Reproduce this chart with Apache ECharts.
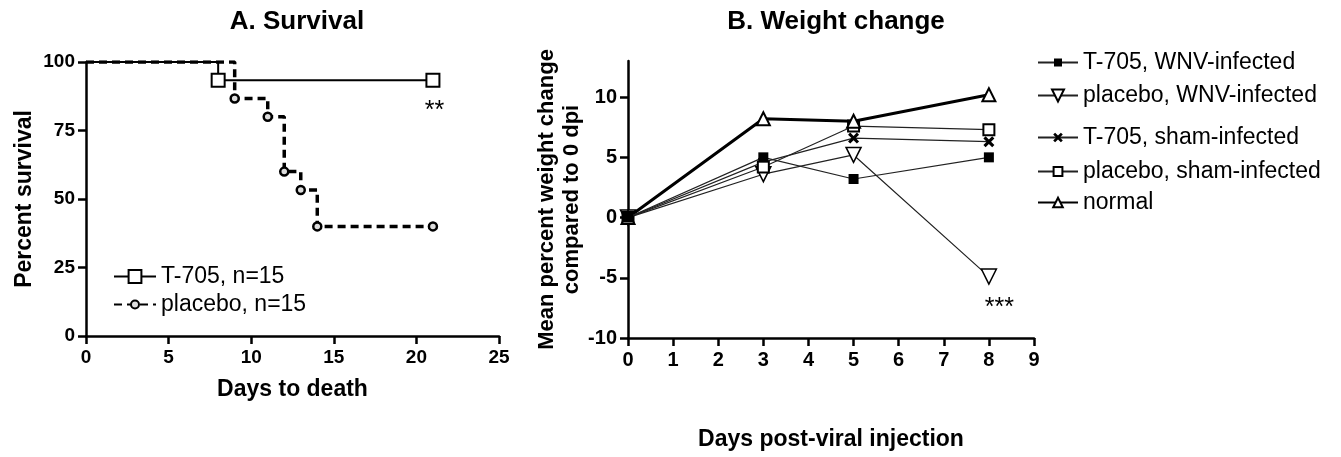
<!DOCTYPE html>
<html>
<head>
<meta charset="utf-8">
<title>Survival and weight change</title>
<script src="https://cdn.jsdelivr.net/npm/echarts@6/dist/echarts.min.js"></script>
</head>
<body style="margin:0;background:#fff">
<div id="main" style="width:1341px;height:457px;"></div>
<script>
// A. survival (Kaplan-Meier)
var t705Days = [0, 8, 21];
var t705Surv = [100, 93.3, 93.3];
var placeboDays = [0, 9, 11, 12, 13, 14, 21];
var placeboSurv = [100, 86.7, 80, 60, 53.3, 40, 40];

// B. weight change, % vs day 0
var dpi = [0, 3, 5, 8];
var t705Wnv = [0, 5.0, 3.2, 5.0];
var placeboWnv = [0, 3.6, 5.2, -4.9];
var t705Sham = [0, 4.6, 6.6, 6.3];
var placeboSham = [0, 4.2, 7.6, 7.3];
var normal = [0, 8.2, 8.0, 10.2];
var weightTicks = [-10, -5, 0, 5, 10];

// significance marks [x, y, text]
var starsA = [21.1, 82, '**'];
var starsB = [8.23, -7.5, '***'];

var FONT = "'Liberation Sans', Arial, sans-serif";
var BLACK = '#000';

function pairs(xs, ys, hideFirst) {
    return xs.map(function (x, i) {
        if (hideFirst && i === 0) return { value: [x, ys[i]], symbol: 'none' };
        return [x, ys[i]];
    });
}

function valueAxis(grid, min, max, interval, margin, extra) {
    var ax = {
        gridIndex: grid,
        type: 'value',
        min: min,
        max: max,
        interval: interval,
        axisLine: { show: true, onZero: false, lineStyle: { color: BLACK, width: 2.5 } },
        axisTick: { show: true, length: 8, lineStyle: { color: BLACK, width: 2.5 } },
        axisLabel: { color: BLACK, fontWeight: 'bold', fontSize: 19, fontFamily: FONT, margin: margin },
        splitLine: { show: false },
        nameLocation: 'middle',
        nameTextStyle: { color: BLACK, fontWeight: 'bold', fontSize: 23, fontFamily: FONT }
    };
    for (var k in extra) ax[k] = extra[k];
    return ax;
}

function legendFor(name, left, top, w, h, size) {
    return {
        data: [name],
        orient: 'vertical',
        left: left,
        top: top,
        padding: 0,
        itemWidth: w,
        itemHeight: h,
        selectedMode: false,
        textStyle: { color: BLACK, fontSize: size, fontFamily: FONT }
    };
}

var xPath = 'path://M0,2L2,0L5,3L8,0L10,2L7,5L10,8L8,10L5,7L2,10L0,8L3,5Z';

var myChart = echarts.init(document.getElementById('main'));
var option = {
    animation: false,
    backgroundColor: '#fff',
    title: [
        { text: 'A. Survival', left: 292, top: 4, textAlign: 'center',
          textStyle: { color: BLACK, fontSize: 26, fontWeight: 'bold', fontFamily: FONT } },
        { text: 'B. Weight change', left: 831, top: 4, textAlign: 'center',
          textStyle: { color: BLACK, fontSize: 26, fontWeight: 'bold', fontFamily: FONT } }
    ],
    grid: [
        { left: 86, top: 62, width: 413, height: 274, outerBoundsMode: 'none' },
        { left: 628, top: 61, width: 406, height: 277, outerBoundsMode: 'none' }
    ],
    xAxis: [
        valueAxis(0, 0, 25, 5, 12, { name: 'Days to death', nameGap: 42 }),
        valueAxis(1, 0, 9, 1, 12, { name: 'Days post-viral injection', nameGap: 90,
            axisLabel: { color: BLACK, fontWeight: 'bold', fontSize: 20, fontFamily: FONT, margin: 12 } })
    ],
    yAxis: [
        valueAxis(0, 0, 100, 25, 11, { name: 'Percent survival', nameGap: 50 }),
        valueAxis(1, -10, 13, 5, 11, {
            name: 'Mean percent weight change\ncompared to 0 dpi', nameGap: 42,
            nameTextStyle: { color: BLACK, fontWeight: 'bold', fontSize: 22, lineHeight: 25, fontFamily: FONT },
            axisTick: { show: true, length: 8, customValues: weightTicks, lineStyle: { color: BLACK, width: 2.5 } },
            axisLabel: { color: BLACK, fontWeight: 'bold', fontSize: 20, fontFamily: FONT, margin: 11, customValues: weightTicks }
        })
    ],
    legend: [
        legendFor('T-705, n=15', 113, 265, 42, 16, 23),
        legendFor('placebo, n=15', 113, 293, 42, 10, 23),
        legendFor('T-705, WNV-infected', 1037, 51, 40, 10, 23),
        legendFor('placebo, WNV-infected', 1037, 84, 40, 15, 23),
        legendFor('T-705, sham-infected', 1037, 126, 40, 12, 23),
        legendFor('placebo, sham-infected', 1037, 160, 40, 11, 23),
        legendFor('normal', 1037, 191, 40, 12, 23)
    ],
    series: [
        {
            name: 'placebo, n=15', type: 'line', step: 'end',
            xAxisIndex: 0, yAxisIndex: 0,
            data: pairs(placeboDays, placeboSurv, true),
            symbol: 'circle', symbolSize: 8,
            itemStyle: { color: '#ddd', borderColor: BLACK, borderWidth: 2.5 },
            lineStyle: { color: BLACK, width: 3.5, type: [8, 5] },
            emphasis: { disabled: true }, z: 2
        },
        {
            name: 'T-705, n=15', type: 'line', step: 'end',
            xAxisIndex: 0, yAxisIndex: 0,
            data: pairs(t705Days, t705Surv, true),
            symbol: 'rect', symbolSize: 13,
            itemStyle: { color: '#fff', borderColor: BLACK, borderWidth: 2 },
            lineStyle: { color: BLACK, width: 2 },
            emphasis: { disabled: true }, z: 3,
            markPoint: {
                symbol: 'circle', symbolSize: 1, silent: true,
                itemStyle: { color: 'rgba(0,0,0,0)' },
                label: { show: true, position: 'inside', formatter: starsA[2], color: BLACK, fontSize: 25, fontFamily: FONT },
                data: [{ coord: [starsA[0], starsA[1]] }]
            }
        },
        {
            name: 'placebo, WNV-infected', type: 'line',
            xAxisIndex: 1, yAxisIndex: 1,
            data: pairs(dpi, placeboWnv),
            symbol: 'triangle', symbolRotate: 180, symbolSize: 15,
            itemStyle: { color: '#fff', borderColor: BLACK, borderWidth: 1.5 },
            lineStyle: { color: '#222', width: 1.2 },
            emphasis: { disabled: true }, z: 2,
            markPoint: {
                symbol: 'circle', symbolSize: 1, silent: true,
                itemStyle: { color: 'rgba(0,0,0,0)' },
                label: { show: true, position: 'inside', formatter: starsB[2], color: BLACK, fontSize: 25, fontFamily: FONT },
                data: [{ coord: [starsB[0], starsB[1]] }]
            }
        },
        {
            name: 'T-705, sham-infected', type: 'line',
            xAxisIndex: 1, yAxisIndex: 1,
            data: pairs(dpi, t705Sham),
            symbol: xPath, symbolSize: 11,
            itemStyle: { color: BLACK },
            lineStyle: { color: '#222', width: 1.2 },
            emphasis: { disabled: true }, z: 2
        },
        {
            name: 'placebo, sham-infected', type: 'line',
            xAxisIndex: 1, yAxisIndex: 1,
            data: pairs(dpi, placeboSham),
            symbol: 'rect', symbolSize: 11,
            itemStyle: { color: '#fff', borderColor: BLACK, borderWidth: 2 },
            lineStyle: { color: '#222', width: 1.2 },
            emphasis: { disabled: true }, z: 2
        },
        {
            name: 'normal', type: 'line',
            xAxisIndex: 1, yAxisIndex: 1,
            data: pairs(dpi, normal),
            symbol: 'triangle', symbolSize: 13,
            itemStyle: { color: '#fff', borderColor: BLACK, borderWidth: 2 },
            lineStyle: { color: BLACK, width: 3 },
            emphasis: { disabled: true }, z: 3
        },
        {
            name: 'T-705, WNV-infected', type: 'line',
            xAxisIndex: 1, yAxisIndex: 1,
            data: pairs(dpi, t705Wnv),
            symbol: 'rect', symbolSize: 10,
            itemStyle: { color: BLACK },
            lineStyle: { color: '#222', width: 1.2 },
            emphasis: { disabled: true }, z: 4
        }
    ]
};
myChart.setOption(option);
</script>
</body>
</html>
